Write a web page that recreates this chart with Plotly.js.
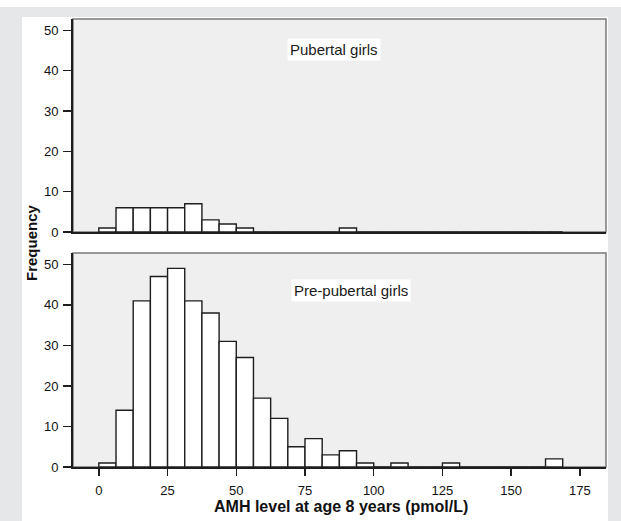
<!DOCTYPE html>
<html>
<head>
<meta charset="utf-8">
<script src="https://cdn.plot.ly/plotly-3.0.1.min.js"></script>
<style>
  html, body { margin: 0; padding: 0; background: #ffffff; }
  #chart { width: 621px; height: 521px; }
</style>
</head>
<body>
<div id="chart"></div>
<script>
// Bin centres (pmol/L), bins 6.25 wide starting at 0
const binCenters = [3.125, 9.375, 15.625, 21.875, 28.125, 34.375, 40.625, 46.875, 53.125,
  59.375, 65.625, 71.875, 78.125, 84.375, 90.625, 96.875, 103.125, 109.375, 115.625,
  121.875, 128.125, 134.375, 140.625, 146.875, 153.125, 159.375, 165.625];
const pubertalCounts = [1, 6, 6, 6, 6, 7, 3, 2, 1, 0, 0, 0, 0, 0, 1, 0, 0, 0, 0, 0, 0, 0, 0, 0, 0, 0, 0];
const prePubertalCounts = [1, 14, 41, 47, 49, 41, 38, 31, 27, 17, 12, 5, 7, 3, 4, 1, 0, 1, 0, 0, 1, 0, 0, 0, 0, 0, 2];
const xTickVals = [0, 25, 50, 75, 100, 125, 150, 175];
const yTickVals = [0, 10, 20, 30, 40, 50];
const panelLabels = ['Pubertal girls', 'Pre-pubertal girls'];
const xTitle = 'AMH level at age 8 years (pmol/L)';
const yTitle = 'Frequency';

const barStyle = { color: '#ffffff', line: { color: '#1e1e1e', width: 1.4 } };
const tickFont = { family: 'Liberation Sans, Arial, sans-serif', size: 13, color: '#111111' };

const traces = [
  { type: 'bar', x: binCenters, y: pubertalCounts, width: 6.25, xaxis: 'x2', yaxis: 'y2',
    marker: barStyle, hoverinfo: 'x+y', showlegend: false },
  { type: 'bar', x: binCenters, y: prePubertalCounts, width: 6.25, xaxis: 'x', yaxis: 'y',
    marker: barStyle, hoverinfo: 'x+y', showlegend: false }
];

const W = 621, H = 521, ml = 73, mr = 15, mt = 19, mb = 54;
const pw = W - ml - mr, ph = H - mt - mb;
const px = v => (v - ml) / pw;
const py = v => (H - mb - v) / ph;
const gray = '#e6e7e8';

const axisCommon = {
  range: [-9.4, 184.5], showgrid: false, zeroline: false, showline: true,
  linecolor: '#1e1e1e', linewidth: 2, fixedrange: true
};
const yCommon = {
  range: [0, 52.8], tickvals: yTickVals, ticks: 'outside', ticklen: 8, tickwidth: 1.5,
  tickcolor: '#1e1e1e', showgrid: false, zeroline: false, showline: true,
  linecolor: '#1e1e1e', linewidth: 2, tickfont: tickFont, fixedrange: true, ticklabelstandoff: 2
};

const layout = {
  width: W, height: H,
  margin: { l: ml, r: mr, t: mt, b: mb, pad: 0 },
  paper_bgcolor: '#ffffff',
  plot_bgcolor: '#efefef',
  bargap: 0,
  xaxis: Object.assign({}, axisCommon, {
    anchor: 'y', domain: [0, 1], tickvals: xTickVals, ticks: 'outside', ticklen: 7,
    tickwidth: 1.5, tickcolor: '#1e1e1e', tickfont: tickFont, ticklabelstandoff: 3
  }),
  xaxis2: Object.assign({}, axisCommon, {
    anchor: 'y2', domain: [0, 1], showticklabels: false, ticks: ''
  }),
  yaxis: Object.assign({}, yCommon, { anchor: 'x', domain: [0, py(253)] }),
  yaxis2: Object.assign({}, yCommon, { anchor: 'x2', domain: [py(232), 1] }),
  shapes: [
    // grey surround
    { type: 'rect', xref: 'paper', yref: 'paper', x0: px(0), x1: px(22), y0: py(H), y1: py(7),
      fillcolor: gray, line: { width: 0 }, layer: 'below' },
    { type: 'rect', xref: 'paper', yref: 'paper', x0: px(608), x1: px(W), y0: py(H), y1: py(7),
      fillcolor: gray, line: { width: 0 }, layer: 'below' },
    { type: 'rect', xref: 'paper', yref: 'paper', x0: px(22), x1: px(608), y0: py(17), y1: py(7),
      fillcolor: gray, line: { width: 0 }, layer: 'below' },
    // panel frames
    { type: 'rect', xref: 'x domain', yref: 'y domain', x0: 0, x1: 1, y0: 0, y1: 1,
      line: { color: '#7a7a7a', width: 1.5 }, fillcolor: 'rgba(0,0,0,0)', layer: 'below' },
    { type: 'rect', xref: 'x2 domain', yref: 'y2 domain', x0: 0, x1: 1, y0: 0, y1: 1,
      line: { color: '#7a7a7a', width: 1.5 }, fillcolor: 'rgba(0,0,0,0)', layer: 'below' }
  ],
  annotations: [
    { text: panelLabels[0], xref: 'x2', yref: 'y2', x: 85.5, y: 45.3, showarrow: false,
      bgcolor: '#ffffff', borderpad: 2, font: { family: 'Liberation Sans, Arial, sans-serif', size: 15, color: '#1a1a1a' } },
    { text: panelLabels[1], xref: 'x', yref: 'y', x: 91.6, y: 43.6, showarrow: false,
      bgcolor: '#ffffff', borderpad: 2, font: { family: 'Liberation Sans, Arial, sans-serif', size: 15, color: '#1a1a1a' } },
    { text: '<b>' + xTitle + '</b>', xref: 'paper', yref: 'paper', x: px(341), y: py(507),
      xanchor: 'center', yanchor: 'middle', showarrow: false,
      font: { family: 'Liberation Sans, Arial, sans-serif', size: 16, color: '#111111' } },
    { text: '<b>' + yTitle + '</b>', xref: 'paper', yref: 'paper', x: px(31), y: py(243),
      xanchor: 'center', yanchor: 'middle', textangle: -90, showarrow: false,
      font: { family: 'Liberation Sans, Arial, sans-serif', size: 15, color: '#111111' } }
  ]
};

Plotly.newPlot('chart', traces, layout, { staticPlot: true, displayModeBar: false });
</script>
</body>
</html>
